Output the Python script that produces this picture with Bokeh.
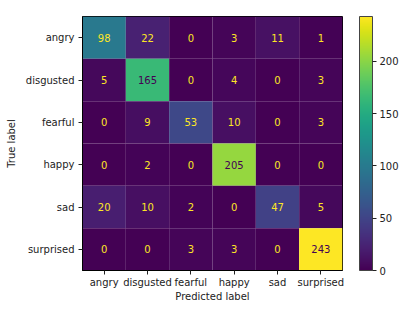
from bokeh.plotting import figure
from bokeh.models import ColumnDataSource, LinearColorMapper, ColorBar, FixedTicker
from bokeh.palettes import Viridis256
from bokeh.embed import file_html
from bokeh.resources import INLINE
from bokeh.core.properties import value

labels = ["angry", "disgusted", "fearful", "happy", "sad", "surprised"]
row_angry = [98, 22, 0, 3, 11, 1]
row_disgusted = [5, 165, 0, 4, 0, 3]
row_fearful = [0, 9, 53, 10, 0, 3]
row_happy = [0, 2, 0, 205, 0, 0]
row_sad = [20, 10, 2, 0, 47, 5]
row_surprised = [0, 0, 3, 3, 0, 243]
rows = [row_angry, row_disgusted, row_fearful, row_happy, row_sad, row_surprised]
cbar_ticks = [0, 50, 100, 150, 200]

FONT = "DejaVu Sans"
vmin = min(min(r) for r in rows)
vmax = max(max(r) for r in rows)
thresh = (vmin + vmax) / 2.0

xs, ys, vals, txts, tcols = [], [], [], [], []
for i, r in enumerate(rows):
    for j, v in enumerate(r):
        xs.append(labels[j])
        ys.append(labels[i])
        vals.append(v)
        txts.append(str(v))
        tcols.append(Viridis256[0] if v >= thresh else Viridis256[-1])

src = ColumnDataSource(dict(x=xs, y=ys, v=vals, t=txts, tc=tcols))
mapper = LinearColorMapper(palette=Viridis256, low=vmin, high=vmax)

p = figure(width=401, height=304, x_range=labels, y_range=list(reversed(labels)),
           output_backend="svg", toolbar_location=None,
           min_border_left=82, min_border_top=16, min_border_bottom=30, min_border_right=56)
p.rect(x="x", y="y", width=1, height=1, source=src,
       fill_color={"field": "v", "transform": mapper}, line_color=None)
p.text(x="x", y="y", text="t", source=src, text_color="tc",
       text_align="center", text_baseline="middle",
       text_font=value(FONT), text_font_size="10px")

p.grid.visible = False
p.outline_line_color = "black"
p.outline_line_width = 1
p.background_fill_color = "white"

for ax in (p.xaxis, p.yaxis):
    ax.axis_line_color = "black"
    ax.major_tick_line_color = "#222222"
    ax.major_tick_out = 4
    ax.major_tick_in = 0
    ax.minor_tick_line_color = None
    ax.major_label_text_font = FONT
    ax.major_label_text_font_size = "10px"
    ax.major_label_text_color = "#222222"
    ax.axis_label_text_font = FONT
    ax.axis_label_text_font_size = "10px"
    ax.axis_label_text_font_style = "normal"
    ax.axis_label_text_color = "#222222"
    ax.major_label_standoff = 4
p.xaxis.axis_label = "Predicted label"
p.yaxis.axis_label = "True label"
p.xaxis.major_label_standoff = 2
p.xaxis.axis_label_standoff = 0
p.yaxis.axis_label_standoff = 6

cb = ColorBar(color_mapper=mapper, ticker=FixedTicker(ticks=cbar_ticks),
              width=13, height="auto", padding=0, margin=0, location=(17, 0),
              bar_line_color="#444444", major_tick_line_color="#222222",
              major_tick_out=4, major_tick_in=0, minor_tick_line_color=None,
              major_label_text_font=FONT, major_label_text_font_size="10px",
              major_label_text_color="#222222", label_standoff=3,
              background_fill_color=None, border_line_color=None)
p.add_layout(cb, "right")

open("out.html", "w").write(file_html(p, INLINE))
